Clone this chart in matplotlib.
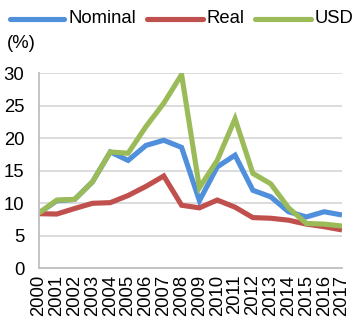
import matplotlib
matplotlib.use("Agg")
import matplotlib.pyplot as plt
from matplotlib.lines import Line2D

plt.rcParams['font.family'] = ['Liberation Sans', 'DejaVu Sans']

years = list(range(2000, 2018))
nominal = [8.5, 10.4, 10.6, 13.3, 17.9, 16.6, 18.9, 19.7, 18.6, 10.4, 15.6, 17.4, 12.0, 11.0, 8.7, 7.9, 8.7, 8.2]
real = [8.4, 8.35, 9.2, 10.0, 10.1, 11.2, 12.6, 14.2, 9.7, 9.3, 10.5, 9.4, 7.8, 7.7, 7.4, 6.8, 6.4, 5.9]
usd = [8.5, 10.5, 10.6, 13.3, 17.9, 17.7, 21.8, 25.4, 29.8, 12.4, 16.6, 23.0, 14.6, 13.0, 9.3, 6.9, 6.8, 6.5]
series = [("Nominal", nominal, "#4f8fdc"), ("Real", real, "#c0504d"), ("USD", usd, "#9bbb59")]

FS = 13.3
W, H = 354, 325
fig = plt.figure(figsize=(W / 100, H / 100), dpi=100)
ax = fig.add_axes([39 / W, 1 - 268.3 / H, (342 - 39) / W, (268.3 - 73.3) / H])

for name, vals, col in series:
    ax.plot(years, vals, color=col, lw=3.7, solid_capstyle='butt', solid_joinstyle='miter')

ax.set_xlim(2000, 2017)
ax.set_ylim(0, 30)
ax.set_yticks(range(0, 31, 5))
ax.set_xticks(years)
ax.set_xticklabels([str(y) for y in years], rotation=90)
ax.tick_params(axis='both', length=0, labelsize=FS, colors='black')
ax.tick_params(axis='y', pad=10.5)
ax.tick_params(axis='x', pad=4.5)
ax.grid(axis='y', color='#d9d9d9', lw=1.3)
ax.set_axisbelow(True)
for s in ['top', 'right']:
    ax.spines[s].set_visible(False)
for s in ['left', 'bottom']:
    ax.spines[s].set_color('#bfbfbf')
    ax.spines[s].set_linewidth(1.3)

# legend row across the top
leg_y = 1 - 18.5 / H
leg_x = [(10, 64), (147, 203), (255, 311)]
for (x0, x1), (name, vals, col) in zip(leg_x, series):
    fig.add_artist(Line2D([x0 / W, x1 / W], [leg_y, leg_y], color=col, lw=3.7,
                          solid_capstyle='round', transform=fig.transFigure))
    fig.text((x1 + 4) / W, leg_y, name, fontsize=FS, va='center', ha='left')

fig.text(7 / W, 1 - 43 / H, "(%)", fontsize=FS, va='center', ha='left')

fig.savefig("out.png", dpi=100)
